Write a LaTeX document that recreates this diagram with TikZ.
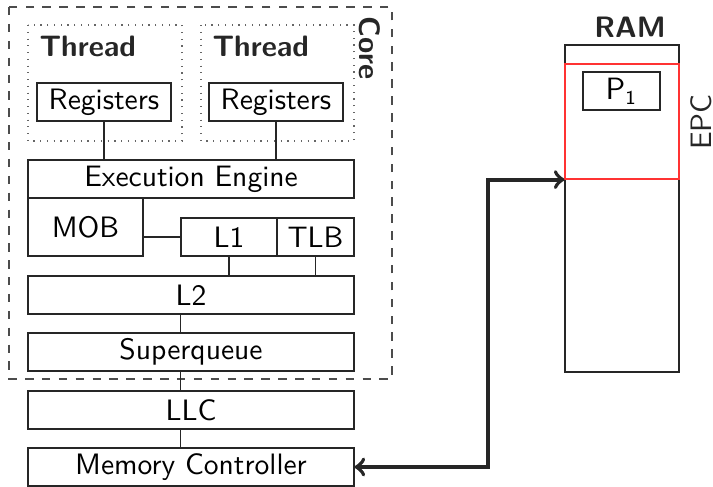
\documentclass[tikz,border=0pt]{standalone}
\usepackage{amsmath}
\usepackage{amssymb}
\usepackage{tikz}

\begin{document}
\begin{tikzpicture}[x=0.0125cm,y=-0.0125cm,
  every node/.style={font=\sffamily\fontsize{10.5}{12}\selectfont, inner sep=0pt},
  unit/.style={draw=black!85, minimum height=0.475cm},
  wide/.style={unit, minimum width=4.075cm},
  regs/.style={unit, minimum width=1.675cm},
  title/.style={font=\sffamily\bfseries\fontsize{10.5}{12}\selectfont, text=black!85},
  link/.style={draw=black!85},
  bus/.style={draw=black!85, line width=1.4pt, <->, >=to}]
\useasboundingbox (0,0) rectangle (713,486);
% core and threads
\draw [black!70, dashed] (9,7) rectangle (392,379);
\node [title, rotate=-90] (core) at (370,48) {Core};
\draw [black!60, dotted] (28,25) rectangle (182,141);
\draw [black!60, dotted] (201,25) rectangle (354,141);
\node [title, anchor=west] (th1) at (39,46) {Thread};
\node [title, anchor=west] (th2) at (212,46) {Thread};
\node [regs] (reg1) at (104,102) {Registers};
\node [regs] (reg2) at (276,102) {Registers};
% pipeline
\node [wide] (exec) at (191,179) {Execution Engine};
\node [unit, minimum width=1.4375cm, minimum height=0.725cm] (mob) at (85.5,227) {MOB};
\node [unit, minimum width=1.2cm] (l1) at (229,237) {L1};
\node [unit, minimum width=0.9625cm] (tlb) at (315.5,237) {TLB};
\node [wide] (l2) at (191,295) {L2};
\node [wide] (sq) at (191,352) {Superqueue};
\node [wide] (llc) at (191,410) {LLC};
\node [wide] (mc) at (191,467) {Memory Controller};
\draw [link] (reg1.south) -- (reg1.south |- exec.north);
\draw [link] (reg2.south) -- (reg2.south |- exec.north);
\draw [link] (l1.west) -- (l1.west -| mob.east);
\draw [link] (l1.south) -- (l1.south |- l2.north);
\draw [link] (tlb.south) -- (tlb.south |- l2.north);
\draw [link] (l2.south -| l1.west) -- (sq.north -| l1.west);
\draw [link] (sq.south -| l1.west) -- (llc.north -| l1.west);
\draw [link] (llc.south -| l1.west) -- (mc.north -| l1.west);
% memory
\node [title] (ramlbl) at (630,27) {RAM};
\node [draw=black!85, minimum width=1.425cm, minimum height=4.0875cm] (ram) at (622,208.5) {};
\node [draw=red!80, minimum width=1.425cm, minimum height=1.4375cm] (epc) at (622,121.5) {};
\node [unit, minimum width=0.9625cm] (p1) at (621.5,91) {$\mathsf{P}_\mathsf{1}$};
\node [rotate=90, text=black!85] (epclbl) at (701,122) {EPC};
\coordinate (bend) at (488,467);
\draw [bus] (mc.east) -- (bend) |- (epc.south west);
\end{tikzpicture}
\end{document}
